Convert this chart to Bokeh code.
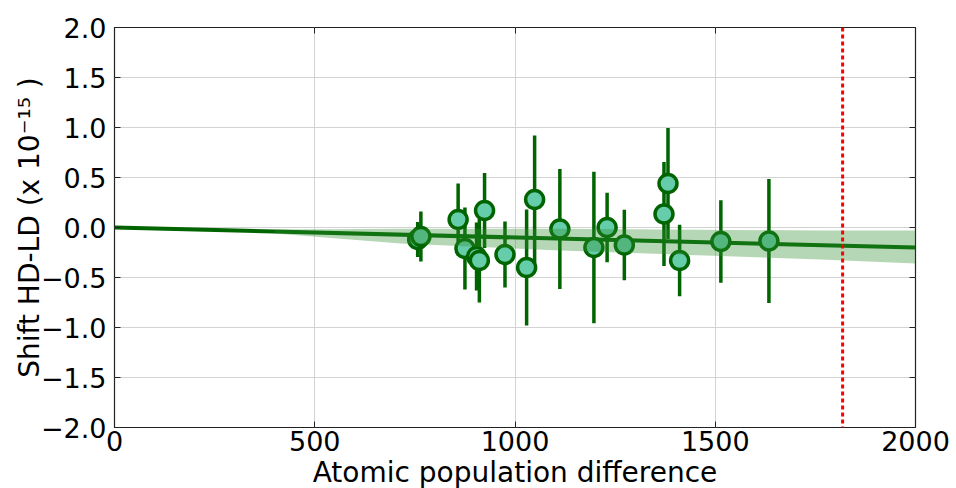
from bokeh.plotting import figure
from bokeh.models import (ColumnDataSource, Span, LinearAxis, Range1d, FixedTicker,
                          CustomJSTickFormatter, Band)
from bokeh.embed import file_html
from bokeh.resources import INLINE

# ---- data ----
pop_diff = [757, 765, 858, 875, 904, 911, 924, 975, 1029, 1049, 1112, 1197, 1230, 1273, 1372, 1382, 1411, 1514, 1634]
shift = [-0.12, -0.09, 0.08, -0.21, -0.29, -0.33, 0.17, -0.27, -0.40, 0.28, -0.015, -0.20, 0.00, -0.175, 0.135, 0.44, -0.33, -0.14, -0.135]
shift_err = [0.175, 0.25, 0.36, 0.41, 0.34, 0.42, 0.375, 0.33, 0.58, 0.64, 0.60, 0.757, 0.347, 0.353, 0.52, 0.555, 0.358, 0.413, 0.62]

fit_x = [0, 2000]
fit_y = [0.0, -0.20]

band_x = [400, 714, 1114, 1763, 2000]
band_upper = [-0.02, -0.013, -0.013, -0.03, -0.03]
band_lower = [-0.06, -0.16, -0.23, -0.32, -0.36]

vline_x = 1818

x_ticks = [0, 500, 1000, 1500, 2000]
y_ticks = [-2.0, -1.5, -1.0, -0.5, 0.0, 0.5, 1.0, 1.5, 2.0]

FONT = "DejaVu Sans"

p = figure(output_backend="svg", toolbar_location=None,
           frame_width=801, frame_height=400,
           x_range=Range1d(0, 2000), y_range=Range1d(-2, 2),
           min_border_left=114, min_border_top=27, min_border_right=39, min_border_bottom=58,
           background_fill_color="white", border_fill_color="white")

p.outline_line_color = "#222222"
p.outline_line_width = 1.2

fmt = CustomJSTickFormatter(code="return tick.toFixed(1).replace('-', '\u2212');")

for ax in p.xaxis:
    ax.ticker = FixedTicker(ticks=x_ticks)
for ax in p.yaxis:
    ax.ticker = FixedTicker(ticks=y_ticks)
    ax.formatter = fmt

for ax in p.axis:
    ax.axis_line_color = None
    ax.major_tick_in = 6
    ax.major_tick_out = 0
    ax.major_tick_line_color = "#222222"
    ax.minor_tick_line_color = None
    ax.major_label_text_font = FONT
    ax.major_label_text_font_size = "27px"
    ax.major_label_text_color = "black"
    ax.axis_label_text_font = FONT
    ax.axis_label_text_font_size = "28px"
    ax.axis_label_text_font_style = "normal"
    ax.axis_label_text_color = "black"

p.xaxis.axis_label = "Atomic population difference"
p.yaxis.axis_label = "Shift HD-LD (x 10\u207b\u00b9\u2075 )"
p.xaxis.major_label_standoff = 3
p.xaxis.axis_label_standoff = 2
p.yaxis.major_label_standoff = 8
p.yaxis.axis_label_standoff = -8

# ticks on top and right (no labels)
for loc, ticks in (("right", y_ticks), ("above", x_ticks)):
    ax = LinearAxis(ticker=FixedTicker(ticks=ticks), axis_line_color=None,
                    major_tick_in=6, major_tick_out=0, major_tick_line_color="#222222",
                    minor_tick_line_color=None, major_label_text_color=None,
                    major_label_text_font_size="1px", major_label_standoff=0)
    p.add_layout(ax, loc)

p.xgrid.ticker = FixedTicker(ticks=x_ticks)
p.ygrid.ticker = FixedTicker(ticks=y_ticks)
p.grid.grid_line_color = "#d3d3d3"
p.grid.grid_line_width = 1

# confidence band
band_src = ColumnDataSource(dict(x=band_x, lower=band_lower, upper=band_upper))
p.add_layout(Band(base="x", lower="lower", upper="upper", source=band_src,
                  fill_color="#2e8b2e", fill_alpha=0.35, line_color=None))

# fit line
p.line(fit_x, fit_y, line_color="#006400", line_width=4)

# error bars and points
lo = [y - e for y, e in zip(shift, shift_err)]
hi = [y + e for y, e in zip(shift, shift_err)]
src = ColumnDataSource(dict(x=pop_diff, y=shift, lo=lo, hi=hi))
p.segment(x0="x", y0="lo", x1="x", y1="hi", source=src, line_color="#006400", line_width=3.5)
p.scatter(x="x", y="y", source=src, size=18, fill_color="#66cdaa",
          line_color="#006400", line_width=3.5)

# vertical red dotted line
p.add_layout(Span(location=vline_x, dimension="height", line_color="red",
                  line_width=3, line_dash="4 3"))

open("out.html", "w").write(file_html(p, INLINE))
